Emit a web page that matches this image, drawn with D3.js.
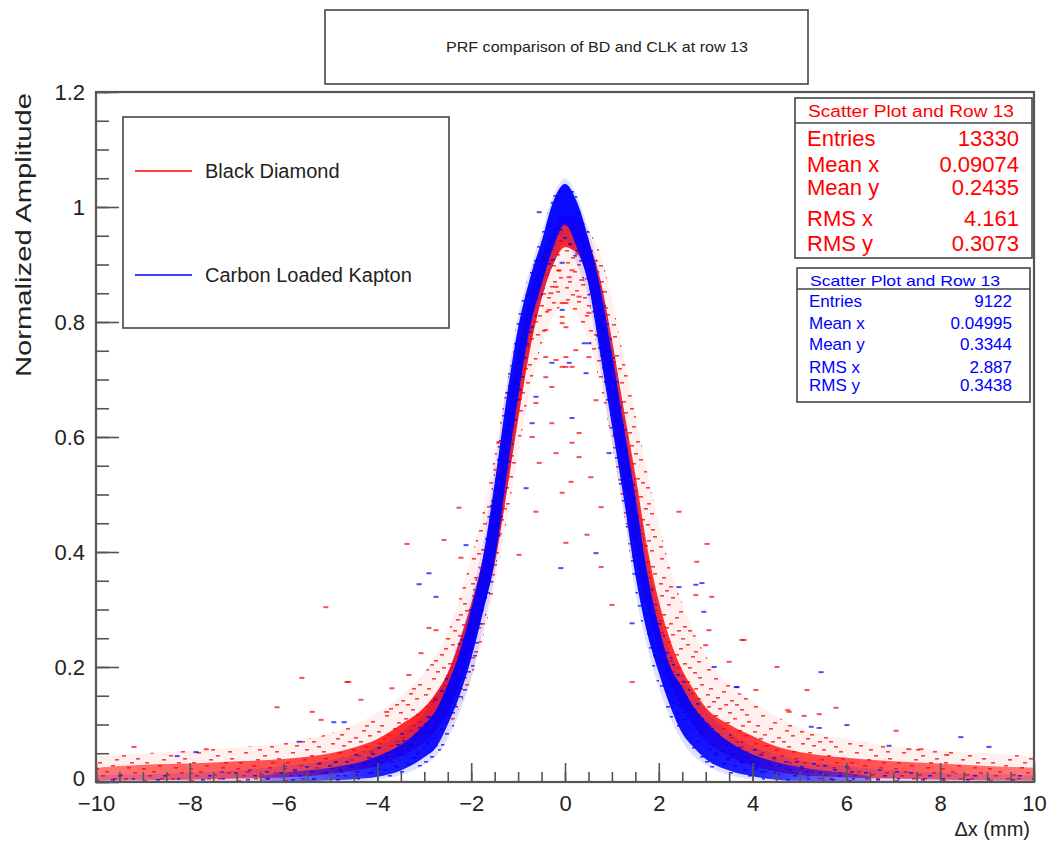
<!DOCTYPE html>
<html>
<head>
<meta charset="utf-8">
<script src="https://cdn.jsdelivr.net/npm/d3@7"></script>
<style>
	body { margin: 0; background: #fff; }
	text { font-family: "Liberation Sans", Arial, Helvetica, sans-serif; }
</style>
</head>
<body>
<div id="chart"></div>
<script>

// Axis ticks
const xTickValues = [-10, -8, -6, -4, -2, 0, 2, 4, 6, 8, 10];
const yTickValues = [0, 0.2, 0.4, 0.6, 0.8, 1, 1.2];

// Dense band of each scatter: [x, y low, y high]
const bdCore = [
	[-10, 0.002, 0.025], [-9, 0.003, 0.03], [-8, 0.004, 0.032], [-7, 0.006, 0.036],
	[-6, 0.008, 0.04], [-5, 0.014, 0.05], [-4.5, 0.02, 0.06], [-4, 0.028, 0.075],
	[-3.5, 0.045, 0.1], [-3, 0.07, 0.13], [-2.75, 0.09, 0.155], [-2.5, 0.12, 0.19],
	[-2.25, 0.17, 0.245], [-2, 0.23, 0.31], [-1.75, 0.3, 0.39], [-1.5, 0.38, 0.5],
	[-1.25, 0.5, 0.63], [-1, 0.63, 0.75], [-0.75, 0.75, 0.84], [-0.5, 0.84, 0.91],
	[-0.25, 0.9, 0.96], [0, 0.93, 0.985], [0.25, 0.92, 0.98], [0.5, 0.87, 0.94],
	[0.75, 0.77, 0.875], [1, 0.65, 0.77], [1.25, 0.53, 0.65], [1.5, 0.405, 0.535],
	[1.75, 0.305, 0.41], [2, 0.23, 0.315], [2.25, 0.17, 0.245], [2.5, 0.13, 0.195],
	[2.75, 0.097, 0.16], [3, 0.073, 0.13], [3.5, 0.045, 0.1], [4, 0.028, 0.08],
	[4.5, 0.018, 0.062], [5, 0.012, 0.052], [6, 0.008, 0.042], [7, 0.006, 0.036],
	[8, 0.004, 0.032], [9, 0.003, 0.028], [10, 0.002, 0.025]
];

const clkCore = [
	[-6.5, 0.0, 0.01], [-6, 0.0, 0.016], [-5.5, 0.001, 0.02], [-5, 0.003, 0.025],
	[-4.5, 0.005, 0.032], [-4, 0.009, 0.045], [-3.5, 0.02, 0.065], [-3.25, 0.03, 0.08],
	[-3, 0.043, 0.1], [-2.75, 0.06, 0.125], [-2.5, 0.1, 0.17], [-2.25, 0.15, 0.225],
	[-2, 0.215, 0.3], [-1.75, 0.295, 0.39], [-1.5, 0.385, 0.52], [-1.25, 0.53, 0.665],
	[-1, 0.67, 0.79], [-0.75, 0.79, 0.875], [-0.5, 0.865, 0.94], [-0.25, 0.93, 1.01],
	[0, 0.97, 1.04], [0.25, 0.93, 1.01], [0.5, 0.865, 0.945], [0.75, 0.745, 0.86],
	[1, 0.62, 0.745], [1.25, 0.495, 0.62], [1.5, 0.36, 0.495], [1.75, 0.26, 0.365],
	[2, 0.19, 0.27], [2.25, 0.13, 0.2], [2.5, 0.085, 0.165], [2.75, 0.06, 0.13],
	[3, 0.04, 0.105], [3.5, 0.02, 0.07], [4, 0.01, 0.048], [4.5, 0.004, 0.035],
	[5, 0.002, 0.026], [5.5, 0.001, 0.02], [6, 0.0, 0.016], [6.5, 0.0, 0.01]
];

// Sparser cloud around each band: [x, y low, y high]
const bdHalo = [
	[-10, 0, 0.045], [-9, 0, 0.05], [-8, 0, 0.055], [-7, 0, 0.06], [-6, 0, 0.068],
	[-5, 0.004, 0.085], [-4.5, 0.008, 0.1], [-4, 0.014, 0.12], [-3.5, 0.025, 0.15],
	[-3, 0.045, 0.19], [-2.75, 0.06, 0.22], [-2.5, 0.085, 0.26], [-2.25, 0.13, 0.32],
	[-2, 0.18, 0.39], [-1.75, 0.25, 0.47], [-1.5, 0.34, 0.57], [-1.25, 0.45, 0.69],
	[-1, 0.57, 0.79], [-0.75, 0.68, 0.88], [-0.5, 0.76, 0.94], [-0.25, 0.81, 0.98],
	[0, 0.83, 1.0], [0.25, 0.81, 0.99], [0.5, 0.77, 0.96], [0.75, 0.69, 0.92],
	[1, 0.59, 0.84], [1.25, 0.47, 0.74], [1.5, 0.36, 0.64], [1.75, 0.27, 0.54],
	[2, 0.2, 0.45], [2.25, 0.15, 0.37], [2.5, 0.11, 0.31], [2.75, 0.08, 0.26],
	[3, 0.06, 0.22], [3.5, 0.035, 0.17], [4, 0.02, 0.14], [4.5, 0.012, 0.115],
	[5, 0.007, 0.095], [6, 0.002, 0.075], [7, 0, 0.062], [8, 0, 0.055], [9, 0, 0.05],
	[10, 0, 0.045]
];

const clkHalo = [
	[-10, 0, 0.012], [-8, 0, 0.016], [-7, 0, 0.02], [-6, 0, 0.028], [-5, 0, 0.038],
	[-4.5, 0.001, 0.048], [-4, 0.004, 0.062], [-3.5, 0.012, 0.085], [-3, 0.03, 0.12],
	[-2.75, 0.045, 0.15], [-2.5, 0.075, 0.19], [-2.25, 0.12, 0.25], [-2, 0.18, 0.32],
	[-1.75, 0.265, 0.415], [-1.5, 0.36, 0.545], [-1.25, 0.5, 0.69], [-1, 0.64, 0.81],
	[-0.75, 0.76, 0.89], [-0.5, 0.84, 0.955], [-0.25, 0.9, 1.02], [0, 0.94, 1.05],
	[0.25, 0.9, 1.02], [0.5, 0.84, 0.96], [0.75, 0.72, 0.88], [1, 0.59, 0.77],
	[1.25, 0.47, 0.645], [1.5, 0.33, 0.52], [1.75, 0.235, 0.39], [2, 0.165, 0.295],
	[2.25, 0.11, 0.225], [2.5, 0.07, 0.185], [2.75, 0.045, 0.15], [3, 0.03, 0.125],
	[3.5, 0.012, 0.085], [4, 0.004, 0.062], [4.5, 0.001, 0.048], [5, 0, 0.038],
	[6, 0, 0.028], [7, 0, 0.02], [8, 0, 0.016], [10, 0, 0.012]
];

// Isolated points: [x, y]
const bdPoints = [
	[-5.61, 0.181], [-4.65, 0.174], [-6.14, 0.13], [-4.35, 0.143], [-5.39, 0.122],
	[-5.2, 0.108], [-9.19, 0.061], [-7.65, 0.057], [-3.69, 0.163], [-3.33, 0.186],
	[-3.8, 0.122], [1.0, 0.308], [3.82, 0.247], [4.52, 0.2], [5.16, 0.16], [4.07, 0.16],
	[5.78, 0.129], [4.78, 0.122], [5.42, 0.118], [5.1, 0.115], [7.06, 0.089],
	[7.59, 0.057], [7.33, 0.057], [8.14, 0.047], [1.43, 0.174], [3.5, 0.209],
	[3.07, 0.264], [0.23, 0.751], [-0.41, 0.786], [0.51, 0.816], [-0.06, 0.809],
	[-0.34, 0.821], [0.3, 0.844], [-0.19, 0.861], [0.09, 0.878], [-0.13, 0.89],
	[0.36, 0.873], [-0.41, 0.739], [0.02, 0.722], [0.51, 0.739], [-0.3, 0.85],
	[0.02, 0.739], [0.15, 0.722], [0.66, 0.664], [0.3, 0.607], [0.15, 0.59],
	[0.3, 0.565], [0.55, 0.53], [0.13, 0.522], [0.15, 0.89], [0.02, 0.833],
	[-0.06, 0.798], [-0.06, 0.833], [0.02, 0.791], [-0.19, 0.734], [-0.28, 0.687],
	[-0.06, 0.722], [-0.41, 0.704], [-0.62, 0.659], [-0.28, 0.624], [-0.7, 0.6],
	[-0.19, 0.572], [-0.55, 0.555], [-1.41, 0.59], [-1.47, 0.543], [-3.37, 0.414],
	[-4.61, 0.174], [-2.26, 0.477], [-2.58, 0.421], [-2.22, 0.39], [-2.9, 0.268],
	[-2.75, 0.264], [-3.07, 0.224], [-0.06, 0.503], [-0.62, 0.47], [-0.98, 0.395],
	[0.02, 0.416], [-5.1, 0.304], [0.47, 0.43], [0.77, 0.374], [0.77, 0.478],
	[2.43, 0.47], [3.03, 0.414], [2.81, 0.383], [3.13, 0.322], [2.79, 0.325],
	[3.0, 0.238], [3.77, 0.247], [4.75, 0.125]
];

const clkPoints = [
	[-4.93, 0.104], [-4.71, 0.104], [-7.87, 0.052], [-5.67, 0.07], [-8.27, 0.045],
	[-2.9, 0.113], [5.46, 0.191], [6.01, 0.099], [5.25, 0.096], [5.42, 0.094],
	[8.44, 0.078], [9.04, 0.061], [6.91, 0.063], [3.65, 0.165], [2.96, 0.296],
	[1.43, 0.276], [-0.06, 0.821], [0.51, 0.763], [-0.55, 0.991], [0.09, 0.729],
	[0.45, 0.711], [0.15, 0.633], [0.94, 0.572], [0.41, 0.763], [-0.28, 0.729],
	[-0.62, 0.67], [-0.7, 0.624], [-0.06, 0.903], [-2.9, 0.363], [-3.11, 0.344],
	[-2.75, 0.322], [-2.11, 0.412], [-0.09, 0.372], [-0.83, 0.511], [0.66, 0.398],
	[2.79, 0.343], [2.92, 0.346], [3.67, 0.165], [3.18, 0.2], [2.43, 0.339]
];

// Legend and statistics boxes
const seriesNames = ["Black Diamond", "Carbon Loaded Kapton"];
const seriesColors = ["#ff0000", "#0000ff"];
const statsTitle = "Scatter Plot and Row 13";
const statsLabels = ["Entries", "Mean x", "Mean y", "RMS x", "RMS y"];
const bdStats = ["13330", "0.09074", "0.2435", "4.161", "0.3073"];
const clkStats = ["9122", "0.04995", "0.3344", "2.887", "0.3438"];

const chartTitle = "PRF comparison of BD and CLK at row 13";
const xTitle = "\u0394x (mm)";
const yTitle = "Normalized Amplitude";

const width = 1051, height = 842;
const frame = { left: 96, right: 1034, top: 92, bottom: 782 };
const frameColor = "#555";

let svg = d3.select("#chart").append("svg")
	.attr("width", width)
	.attr("height", height)
	.style("display", "block");

svg.append("rect").attr("width", width).attr("height", height).attr("fill", "#fff");

let x = d3.scaleLinear().domain([-10, 10]).range([frame.left, frame.right]);
let y = d3.scaleLinear().domain([0, 1.2]).range([frame.bottom, frame.top]);

let defs = svg.append("defs");

defs.append("clipPath").attr("id", "frame-clip")
	.append("rect")
	.attr("x", frame.left).attr("y", frame.top)
	.attr("width", frame.right - frame.left).attr("height", frame.bottom - frame.top);

defs.append("filter").attr("id", "soft")
	.append("feGaussianBlur").attr("stdDeviation", 0.6);

// Speckle texture for the sparse clouds (only a fill style)
const speckle = [[2, 3], [19, 1], [35, 6], [23, 9], [9, 12], [28, 15], [42, 18],
	[4, 22], [17, 25], [33, 27], [11, 31], [39, 32], [25, 34], [13, 5], [30, 1],
	[40, 11], [1, 28], [21, 19], [36, 22], [7, 35]];
function specklePattern(id, color, w, h) {
	let p = defs.append("pattern").attr("id", id)
		.attr("patternUnits", "userSpaceOnUse")
		.attr("width", w).attr("height", h);
	p.selectAll("rect").data(speckle).enter().append("rect")
		.attr("x", d => d[0]).attr("y", d => d[1])
		.attr("width", 4).attr("height", 1.6)
		.attr("fill", color).attr("fill-opacity", 0.75);
}
specklePattern("speckle-bd", seriesColors[0], 47, 37);
specklePattern("speckle-clk", seriesColors[1], 45, 38);

// Band opacity fades out toward the tails, where the points thin out
function bandGradient(id, color, stops) {
	let g = defs.append("linearGradient").attr("id", id)
		.attr("gradientUnits", "userSpaceOnUse")
		.attr("x1", x(-10)).attr("x2", x(10)).attr("y1", 0).attr("y2", 0);
	stops.forEach(s => g.append("stop")
		.attr("offset", (x(s[0]) - x(-10)) / (x(10) - x(-10)))
		.attr("stop-color", color).attr("stop-opacity", s[1]));
}
bandGradient("fade-bd", seriesColors[0], [[-10, 0.5], [-5, 0.72], [-2.5, 0.88], [-1, 0.85], [1, 0.8], [2.5, 0.8], [5, 0.72], [10, 0.5]]);
bandGradient("fade-clk", seriesColors[1], [[-6.5, 0.35], [-4, 0.85], [-2, 0.95], [2, 0.95], [4, 0.85], [6.5, 0.35]]);

let band = d3.area()
	.x(d => x(d[0]))
	.y0(d => y(d[1]))
	.y1(d => y(d[2]))
	.curve(d3.curveMonotoneX);

let dataLayer = svg.append("g")
	.attr("clip-path", "url(#frame-clip)")
	.append("g")
	.attr("filter", "url(#soft)");

// Clouds first, then the dense bands
dataLayer.append("path").datum(bdHalo).attr("d", band)
	.attr("fill", seriesColors[0]).attr("fill-opacity", 0.06);
dataLayer.append("path").datum(bdHalo).attr("d", band)
	.attr("fill", "url(#speckle-bd)");
dataLayer.append("path").datum(bdCore).attr("d", band)
	.attr("fill", "url(#fade-bd)");
dataLayer.append("path").datum(clkHalo).attr("d", band)
	.attr("fill", seriesColors[1]).attr("fill-opacity", 0.12);
dataLayer.append("path").datum(clkHalo).attr("d", band)
	.attr("fill", "url(#speckle-clk)");
dataLayer.append("path").datum(clkCore).attr("d", band)
	.attr("fill", "url(#fade-clk)");

// Isolated markers are drawn as short dashes like the original
function drawPoints(points, color) {
	dataLayer.append("g").selectAll("rect")
		.data(points)
		.enter().append("rect")
		.attr("x", d => x(d[0]) - 2.5)
		.attr("y", d => y(d[1]) - 1)
		.attr("width", 5)
		.attr("height", 2)
		.attr("fill", color)
		.attr("fill-opacity", 0.7);
}
drawPoints(bdPoints, seriesColors[0]);
drawPoints(clkPoints, seriesColors[1]);

// Axes, ticks point into the frame
let xAxisMajor = d3.axisBottom(x).tickValues(xTickValues).tickSizeInner(-19).tickSizeOuter(0).tickPadding(13).tickFormat(d3.format("d"));
let xAxisMinor = d3.axisBottom(x).tickValues(d3.range(-10, 10.01, 0.5)).tickSizeInner(-10).tickSizeOuter(0).tickFormat("");
let yAxisMajor = d3.axisLeft(y).tickValues(yTickValues).tickSizeInner(-23).tickSizeOuter(0).tickPadding(11).tickFormat(d => d === 0 || d === 1 ? d3.format("d")(d) : d3.format(".1f")(d));
let yAxisMinor = d3.axisLeft(y).tickValues(d3.range(0, 1.2001, 0.05)).tickSizeInner(-13).tickSizeOuter(0).tickFormat("");

function styleAxis(g) {
	g.select(".domain").remove();
	g.selectAll("line").attr("stroke", frameColor).attr("stroke-width", 1.6);
	g.selectAll("text").attr("fill", "#222").style("font-size", "22px");
}

svg.append("g").attr("transform", `translate(0,${frame.bottom})`).call(xAxisMinor).call(styleAxis);
svg.append("g").attr("transform", `translate(0,${frame.bottom})`).call(xAxisMajor).call(styleAxis);
svg.append("g").attr("transform", `translate(${frame.left},0)`).call(yAxisMinor).call(styleAxis);
let yAxisG = svg.append("g").attr("transform", `translate(${frame.left},0)`).call(yAxisMajor).call(styleAxis);

// keep the bottom "0" clear of the first x label
yAxisG.selectAll(".tick text").filter(d => d === 0).attr("dy", "0.14em");

svg.append("rect")
	.attr("x", frame.left).attr("y", frame.top)
	.attr("width", frame.right - frame.left).attr("height", frame.bottom - frame.top)
	.attr("fill", "none").attr("stroke", frameColor).attr("stroke-width", 2.2);

// Axis titles
svg.append("text")
	.attr("transform", "translate(25,93) rotate(-90)")
	.attr("text-anchor", "end")
	.attr("dominant-baseline", "middle")
	.attr("textLength", 284)
	.attr("lengthAdjust", "spacingAndGlyphs")
	.style("font-size", "22px").attr("fill", "#222")
	.text(yTitle);

svg.append("text")
	.attr("x", 1030).attr("y", 836)
	.attr("text-anchor", "end")
	.style("font-size", "20px").attr("fill", "#222")
	.text(xTitle);

// Pave boxes
function pave(x0, y0, x1, y1) {
	svg.append("rect")
		.attr("x", x0).attr("y", y0)
		.attr("width", x1 - x0).attr("height", y1 - y0)
		.attr("fill", "#fff").attr("stroke", "#444").attr("stroke-width", 1.6);
}

pave(325, 10, 808, 84);
svg.append("text")
	.attr("x", 446).attr("y", 52)
	.attr("textLength", 302)
	.attr("lengthAdjust", "spacingAndGlyphs")
	.style("font-size", "15px").attr("fill", "#222")
	.text(chartTitle);

// Legend
pave(123, 117, 449, 328);
let legendRows = [171, 275];
seriesNames.forEach((name, i) => {
	svg.append("line")
		.attr("x1", 135).attr("x2", 192)
		.attr("y1", legendRows[i]).attr("y2", legendRows[i])
		.attr("stroke", seriesColors[i]).attr("stroke-width", 1.6);
	svg.append("text")
		.attr("x", 205).attr("y", legendRows[i] + 7)
		.style("font-size", "20px").attr("fill", "#222")
		.text(name);
});

// Statistics boxes
function statsBox(box, values, color) {
	pave(box.x0, box.y0, box.x1, box.y1);
	svg.append("line")
		.attr("x1", box.x0).attr("x2", box.x1)
		.attr("y1", box.divider).attr("y2", box.divider)
		.attr("stroke", "#444").attr("stroke-width", 1.6);
	svg.append("text")
		.attr("x", box.x0 + 13).attr("y", box.titleBase)
		.attr("textLength", box.titleLength)
		.attr("lengthAdjust", "spacingAndGlyphs")
		.style("font-size", box.titleSize + "px").attr("fill", color)
		.text(statsTitle);
	statsLabels.forEach((label, i) => {
		svg.append("text")
			.attr("x", box.x0 + 12).attr("y", box.rows[i])
			.style("font-size", box.rowSize + "px").attr("fill", color)
			.text(label);
		svg.append("text")
			.attr("x", box.valueRight).attr("y", box.rows[i])
			.attr("text-anchor", "end")
			.style("font-size", box.rowSize + "px").attr("fill", color)
			.text(values[i]);
	});
}

statsBox({ x0: 795, y0: 98, x1: 1032, y1: 258, divider: 123, titleBase: 117, titleLength: 206, titleSize: 16,
	rows: [146, 172, 195, 226, 251], rowSize: 22, valueRight: 1019 }, bdStats, seriesColors[0]);
statsBox({ x0: 797, y0: 268, x1: 1030, y1: 402, divider: 289, titleBase: 286, titleLength: 190, titleSize: 15,
	rows: [307, 329, 350, 373, 391], rowSize: 17, valueRight: 1012 }, clkStats, seriesColors[1]);

</script>
</body>
</html>
